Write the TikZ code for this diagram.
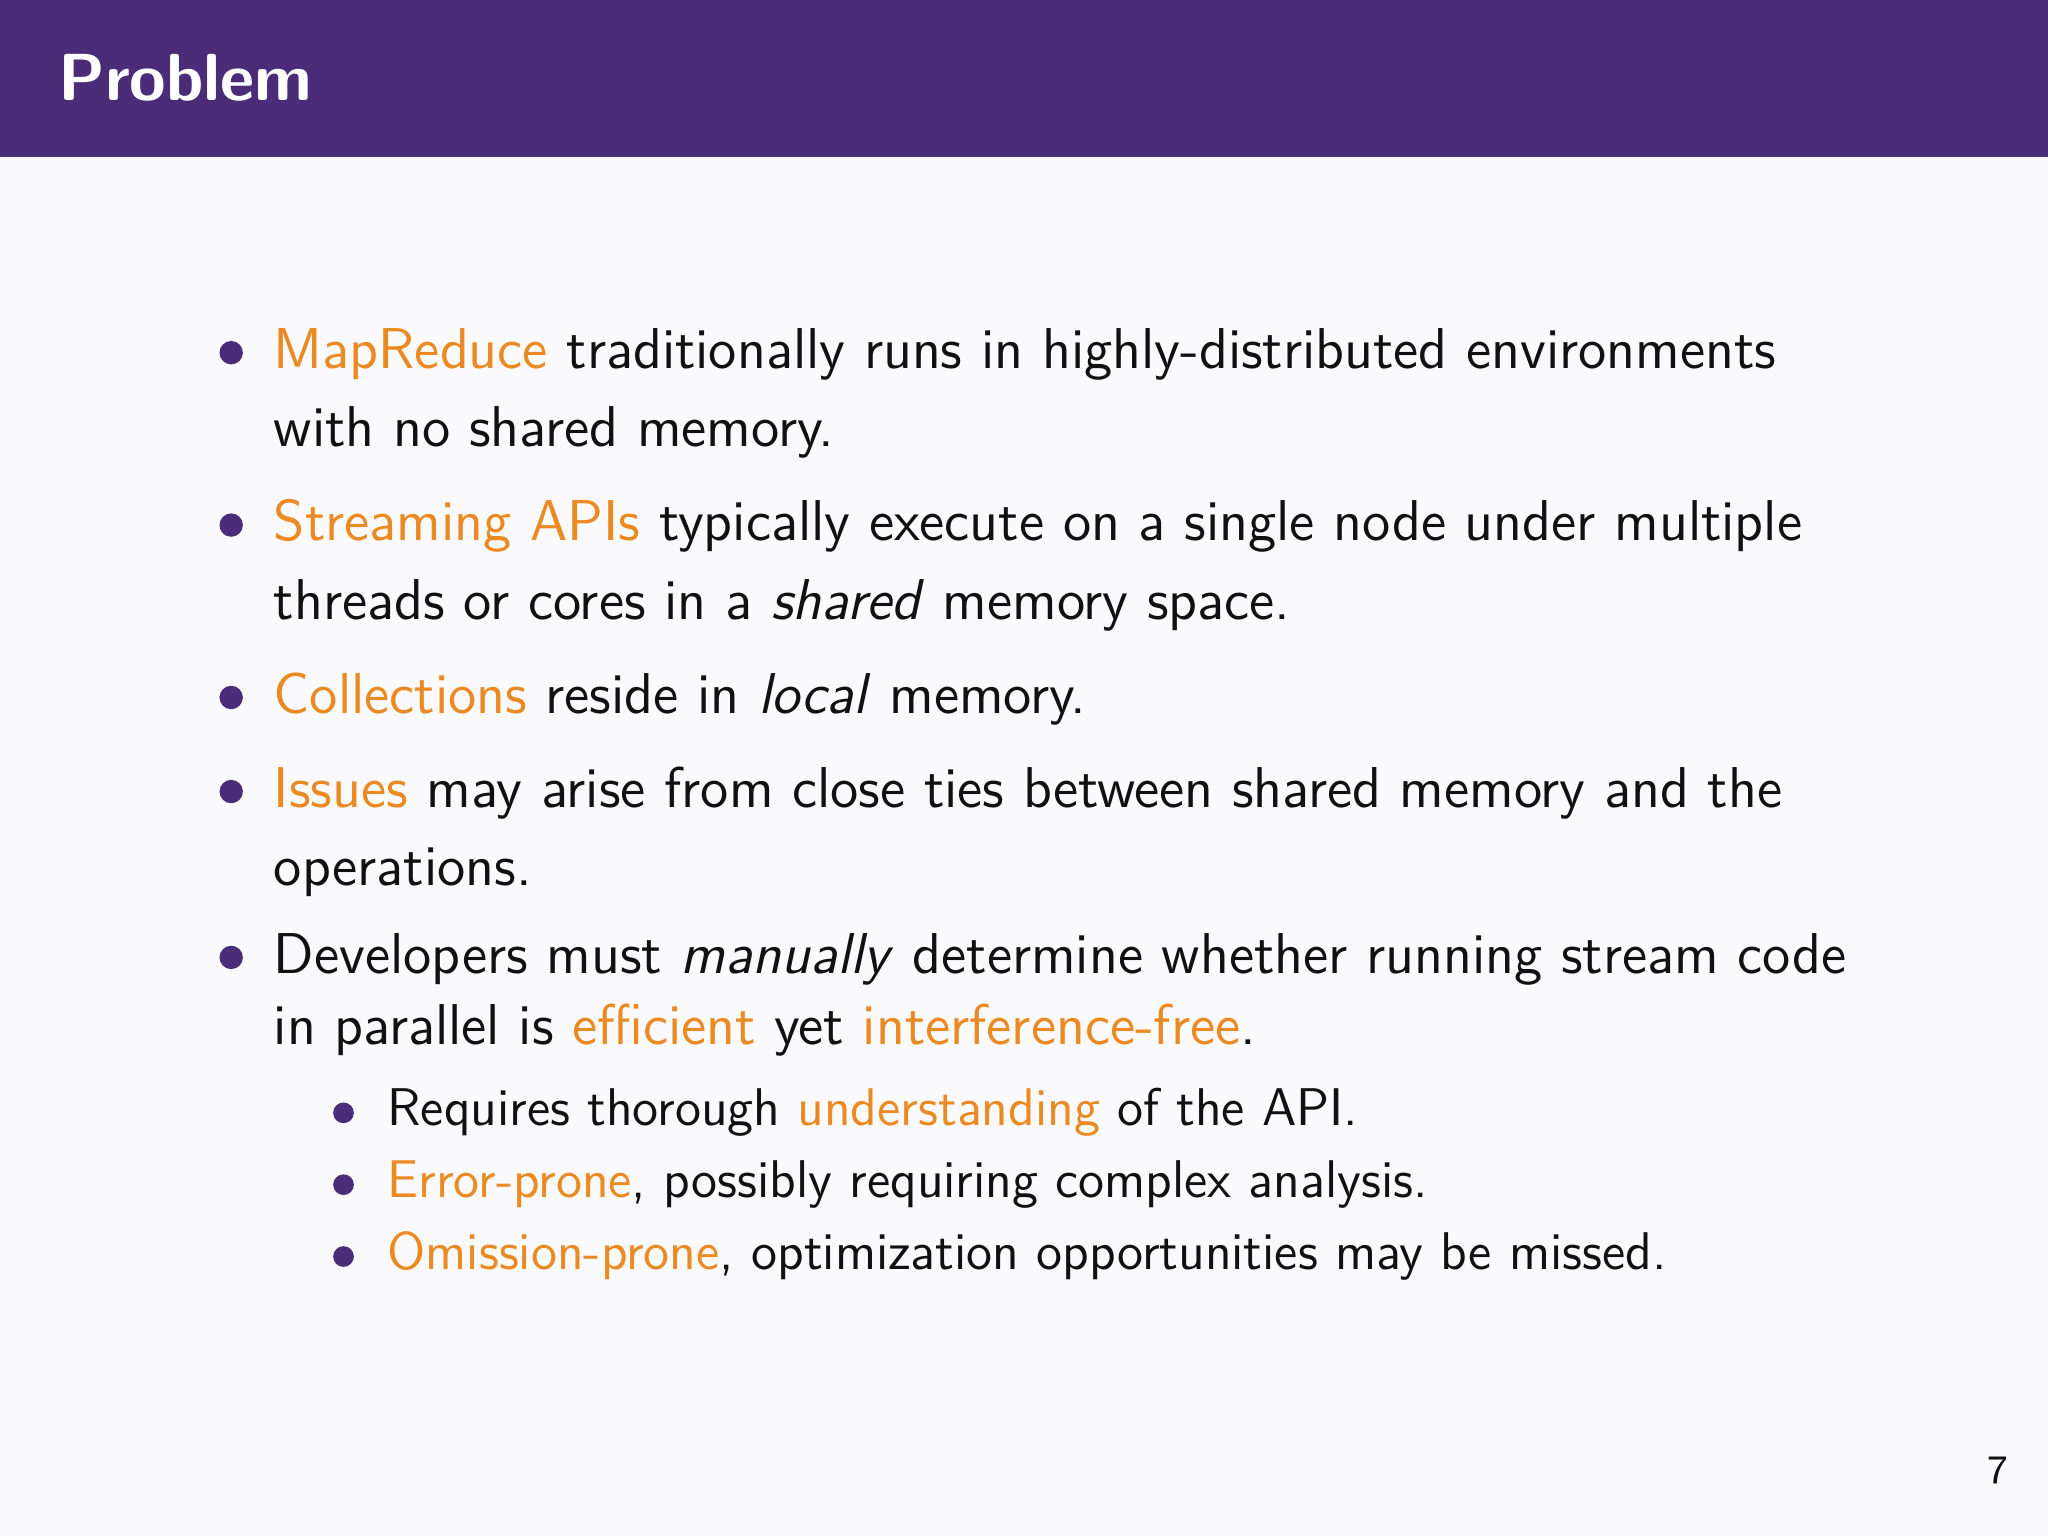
\documentclass[tikz,border=0pt]{standalone}
\definecolor{hdr}{HTML}{4A2C79}
\definecolor{acc}{HTML}{EB8A23}
\definecolor{bg}{HTML}{FAFAFC}
\definecolor{txt}{HTML}{111111}
\tikzset{x=0.010204cm,y=-0.010204cm,
 ln/.style={anchor=base west,inner sep=0,font=\sffamily\fontsize{12.8}{16}\selectfont,text=txt},
 sl/.style={anchor=base west,inner sep=0,font=\sffamily\fontsize{11.8}{15}\selectfont,text=txt},
 bul/.style={circle,fill=hdr,inner sep=0,minimum size=#1}}
\newcommand\hl[1]{\textcolor{acc}{#1}}
\begin{document}
\begin{tikzpicture}
\fill[bg] (0,0) rectangle (1568,1176);
\fill[hdr] (0,0) rectangle (1568,120);
\node[anchor=base west,inner sep=0,text=white,font=\sffamily\bfseries\fontsize{14.8}{18}\selectfont] (title) at (44,77) {Problem};
\foreach \y [count=\i] in {270,402,534,606,733}{\node[bul=5.2pt] (b\i) at (177,\y) {};}
\foreach \y [count=\i] in {852,907,962}{\node[bul=4.6pt] (s\i) at (263,\y) {};}
\node[ln] (l1) at (209,282) {\hl{MapReduce} traditionally runs in highly-distributed environments};
\node[ln] (l2) at (209,342) {with no shared memory.};
\node[ln] (l3) at (209,414) {\hl{Streaming APIs} typically execute on a single node under multiple};
\node[ln] (l4) at (209,474) {threads or cores in a \textit{shared} memory space.};
\node[ln] (l5) at (209,546) {\hl{Collections} reside in \textit{local} memory.};
\node[ln] (l6) at (209,618) {\hl{Issues} may arise from close ties between shared memory and the};
\node[ln] (l7) at (209,678) {operations.};
\node[ln] (l8) at (209,745) {Developers must \textit{manually} determine whether running stream code};
\node[ln] (l9) at (209,800) {in parallel is \hl{efficient} yet \hl{interference-free}.};
\node[sl] (m1) at (296,862) {Requires thorough \hl{understanding} of the API.};
\node[sl] (m2) at (296,917) {\hl{Error-prone}, possibly requiring complex analysis.};
\node[sl] (m3) at (296,972) {\hl{Omission-prone}, optimization opportunities may be missed.};
\node[anchor=base east,inner sep=0,font=\sffamily\fontsize{9}{11}\selectfont,text=txt] (pg) at (1538,1136) {7};
\end{tikzpicture}
\end{document}
